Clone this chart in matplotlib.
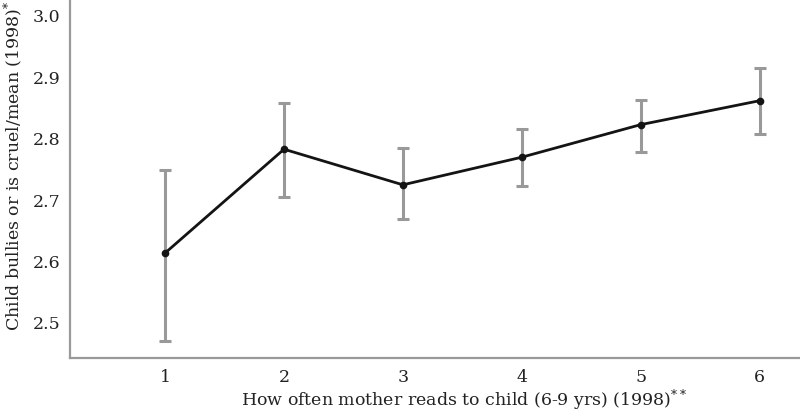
import matplotlib
matplotlib.use("Agg")
import matplotlib.pyplot as plt

# Data
x_cats = [1, 2, 3, 4, 5, 6]
means = [2.614, 2.783, 2.725, 2.770, 2.823, 2.862]
upper = [2.749, 2.858, 2.785, 2.816, 2.863, 2.915]
lower = [2.471, 2.706, 2.669, 2.723, 2.779, 2.807]
y_ticks = [2.5, 2.6, 2.7, 2.8, 2.9, 3.0]
x_label = "How often mother reads to child (6-9 yrs) (1998)$^{**}$"
y_label = "Child bullies or is cruel/mean (1998)$^{*}$"

plt.rcParams['font.family'] = ['DejaVu Serif']
plt.rcParams['mathtext.fontset'] = 'dejavuserif'

fig = plt.figure(figsize=(8, 4.12), dpi=100)
ax = fig.add_axes([70/800, 54/412, 730/800, 358/412])

yerr = [[m - l for m, l in zip(means, lower)], [u - m for u, m in zip(upper, means)]]
ax.errorbar(x_cats, means, yerr=yerr, fmt='none', ecolor='#999999',
            elinewidth=2.2, capsize=4.6, capthick=2.2, zorder=2)
ax.plot(x_cats, means, color='#141414', lw=2.0, marker='o', ms=4.5, zorder=3)

ax.set_xlim(0.2, 6.34)
ax.set_ylim(2.443, 3.026)
ax.set_yticks(y_ticks)
ax.set_yticklabels([f"{v:.1f}" for v in y_ticks])
ax.set_xticks(x_cats)
ax.set_xticklabels([str(v) for v in x_cats])
ax.tick_params(length=0, labelsize=12.5, colors='#222222')
ax.tick_params(axis='y', pad=7)
ax.tick_params(axis='x', pad=8)

for s in ['top', 'right']:
    ax.spines[s].set_visible(False)
for s in ['left', 'bottom']:
    ax.spines[s].set_color('#999999')
    ax.spines[s].set_linewidth(1.6)

fig.text(464/800, (412-400)/412, x_label, ha='center', va='center',
         fontsize=12.5, color='#222222')
fig.text(13/800, (412-166)/412, y_label, ha='center', va='center',
         rotation=90, fontsize=12.5, color='#222222')

fig.savefig("out.png", dpi=100)
